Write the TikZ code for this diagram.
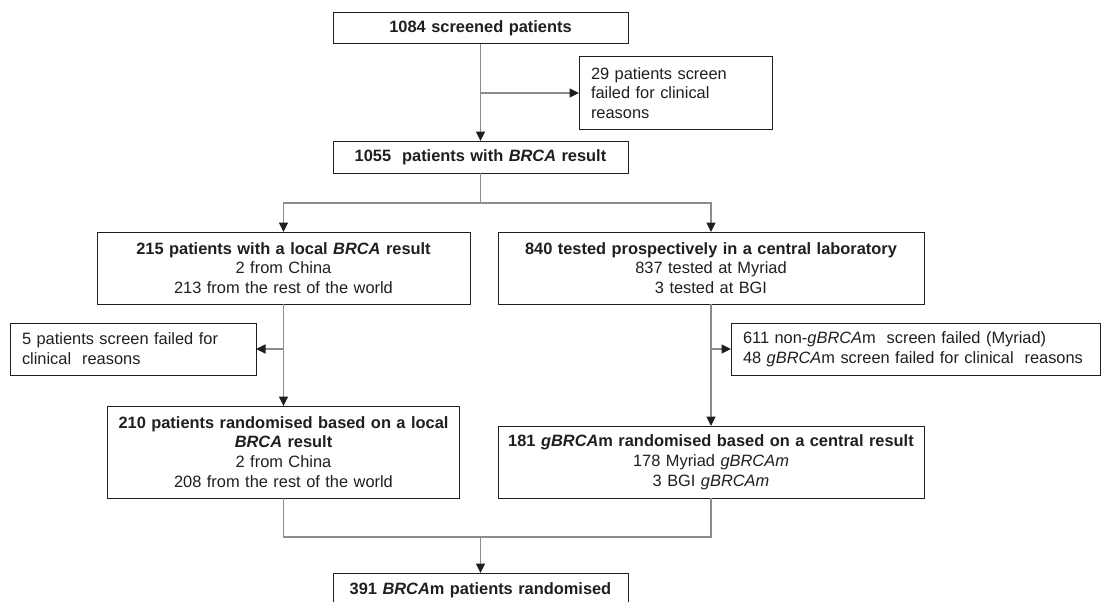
\documentclass[tikz,border=0pt]{standalone}
\usepackage{fontspec}
\setmainfont{Liberation Sans}
\usetikzlibrary{arrows.meta}
\definecolor{ink}{gray}{0.12}
\definecolor{rule}{gray}{0.55}

\begin{document}
\begin{tikzpicture}[x=1pt,y=-1pt,
  every node/.style={inner sep=0pt,outer sep=0pt,text=ink,
    font=\fontsize{16.4}{19.8}\selectfont},
  box/.style={draw=ink,line width=1pt,align=center,inner xsep=10pt,inner ysep=3pt},
  side/.style={draw=ink,line width=1pt,align=left,inner xsep=12pt,inner ysep=3pt},
  wire/.style={draw=rule,line width=1.1pt},
  flow/.style={wire,-{Triangle[length=9.5pt,width=9pt,color=ink]}}]

\useasboundingbox (0,0) rectangle (1103,602);
\clip (0,0) rectangle (1103,602);

% ---- screening -----------------------------------------------------------
\node[box,text width=275pt,minimum height=31] (scr) at (480.5,28.5)
  {\textbf{1084 screened patients}};
\node[side,text width=169pt,minimum height=72] (fail1) at (675.5,93)
  {29 patients screen\\failed for clinical\\reasons};
\node[box,text width=275pt,minimum height=32] (res) at (480.5,157)
  {\textbf{1055\ \ patients with \textit{BRCA} result}};

% ---- local arm -----------------------------------------------------------
\node[box,text width=353pt,minimum height=72] (local) at (283.5,268)
  {\textbf{215 patients with a local \textit{BRCA} result}\\2 from China\\213 from the rest of the world};
\node[side,text width=222pt,minimum height=52] (fail2) at (133,349)
  {5 patients screen failed for\\clinical\ \ reasons};
\node[box,text width=332pt,minimum height=92] (randl) at (283.5,452)
  {\textbf{210 patients randomised based on a local}\\\textbf{\textit{BRCA} result}\\2 from China\\208 from the rest of the world};

% ---- central arm ---------------------------------------------------------
\node[box,text width=406pt,minimum height=72] (central) at (711,268)
  {\textbf{840 tested prospectively in a central laboratory}\\837 tested at Myriad\\3 tested at BGI};
\node[side,text width=345pt,minimum height=52] (fail3) at (915.5,349)
  {611 non-\textit{gBRCA}m\ \ screen failed (Myriad)\\48 \textit{gBRCA}m screen failed for clinical\ \ reasons};
\node[box,text width=406pt,minimum height=72] (randc) at (711,462)
  {\textbf{181 \textit{gBRCA}m randomised based on a central result}\\178 Myriad \textit{gBRCAm}\\3 BGI \textit{gBRCAm}};

% ---- randomised ----------------------------------------------------------
\node[box,text width=275pt,minimum height=34] (total) at (480.5,590)
  {\textbf{391 \textit{BRCA}m patients randomised}};

% ---- connectors ----------------------------------------------------------
\coordinate (split) at (480.5,203);
\coordinate (join) at (480.5,537);
\draw[flow] (scr) -- (res);
\draw[flow] (scr.south |- fail1.west) -- (fail1);
\draw[wire] (res) -- (split);
\draw[flow] (split) -| (local);
\draw[flow] (split) -| (central);
\draw[flow] (local) -- (randl);
\draw[flow] (local |- fail2) -- (fail2);
\draw[flow] (central) -- (randc);
\draw[flow] (central |- fail3) -- (fail3);
\draw[wire] (randl) |- (join) -| (randc);
\draw[flow] (join) -- (total);
\end{tikzpicture}
\end{document}
